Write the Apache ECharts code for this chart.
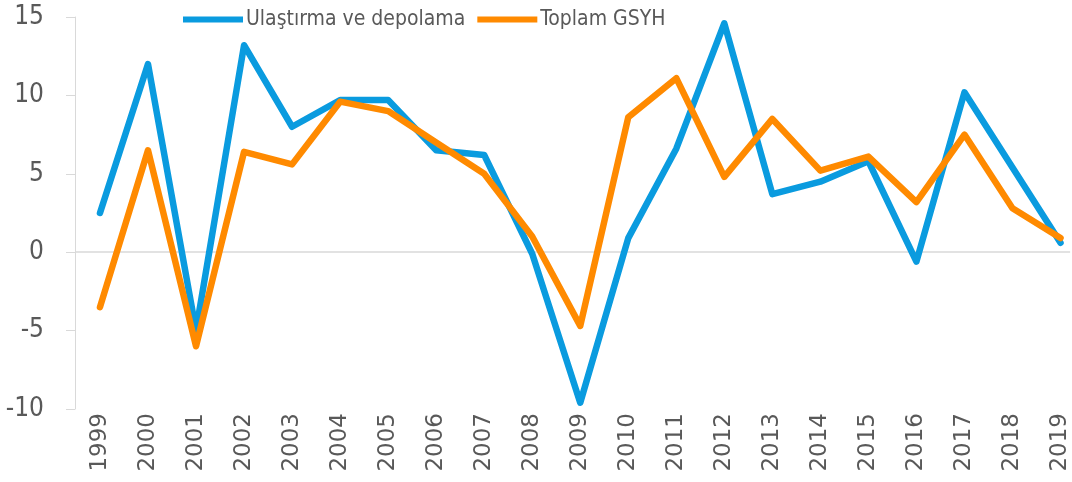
<!DOCTYPE html>
<html lang="tr">
  <head>
    <meta charset="UTF-8" />
    <title>Ulaştırma ve depolama - Toplam GSYH</title>
    <style>
      body, html {
        margin: 0;
        width: 100%;
        height: 100%;
        background: #fff;
      }
    </style>
  </head>
  <body>
    <div id="main" style="width:1072px;height:482px;"></div>

    <script src="https://cdn.jsdelivr.net/npm/echarts@6/dist/echarts.min.js"></script>
    <script>
      const years = ['1999', '2000', '2001', '2002', '2003', '2004', '2005', '2006', '2007', '2008',
        '2009', '2010', '2011', '2012', '2013', '2014', '2015', '2016', '2017', '2018', '2019'];

      // Ulaştırma ve depolama
      const ulastirma = [2.5, 12.0, -5.0, 13.2, 8.0, 9.7, 9.7, 6.5, 6.2, -0.1,
        -9.6, 0.9, 6.6, 14.6, 3.7, 4.5, 5.8, -0.6, 10.2, 5.4, 0.6];

      // Toplam GSYH
      const gsyh = [-3.5, 6.5, -6.0, 6.4, 5.6, 9.6, 9.0, 7.0, 5.0, 1.0,
        -4.7, 8.6, 11.1, 4.8, 8.5, 5.2, 6.1, 3.2, 7.5, 2.8, 0.9];

      const yTicks = [-10, -5, 0, 5, 10, 15];

      const textColor = '#595959';
      const narrow = "'Liberation Sans Narrow', 'DejaVu Sans Condensed', 'Liberation Sans', sans-serif";

      // x is the year index; the axis runs a bit past the last year so that
      // 2019 sits close to the right edge, as in the original
      const yearIdx = years.map((y, i) => i);
      const toPairs = arr => arr.map((v, i) => [i, v]);

      const myChart = echarts.init(document.getElementById('main'));

      const option = {
        animation: false,
        color: ['#0A9BDF', '#FF8A00'],
        legend: {
          top: 4,
          left: 178,
          icon: 'rect',
          itemWidth: 60,
          itemHeight: 6,
          itemGap: 12,
          textStyle: {
            color: textColor,
            fontFamily: narrow,
            fontSize: 21,
            padding: [0, 0, 0, -2],
          },
          data: ['Ulaştırma ve depolama', 'Toplam GSYH'],
        },
        grid: {
          left: 75,
          right: 0,
          top: 17,
          bottom: 73,
          containLabel: false,
        },
        xAxis: {
          type: 'value',
          min: -0.52,
          max: 20.2,
          splitLine: { show: false },
          axisLine: { show: false, onZero: false },
          axisTick: { show: false },
          axisLabel: {
            customValues: yearIdx,
            formatter: v => years[v],
            rotate: 90,
            margin: 4,
            color: textColor,
            fontFamily: "'DejaVu Sans', sans-serif",
            fontSize: 23,
          },
        },
        yAxis: {
          type: 'value',
          min: yTicks[0],
          max: yTicks[yTicks.length - 1],
          interval: 5,
          splitLine: { show: false },
          axisLine: { show: true, onZero: false, lineStyle: { color: '#d9d9d9', width: 1 } },
          axisTick: { show: true, length: 9, lineStyle: { color: '#d9d9d9' } },
          axisLabel: {
            margin: 31,
            color: textColor,
            fontFamily: narrow,
            fontSize: 26,
          },
        },
        series: [
          {
            name: 'Ulaştırma ve depolama',
            type: 'line',
            data: toPairs(ulastirma),
            symbol: 'none',
            lineStyle: { width: 6.5, cap: 'round', join: 'round' },
            z: 3,
            markLine: {
              silent: true,
              symbol: 'none',
              label: { show: false },
              lineStyle: { color: '#d9d9d9', width: 1.5, type: 'solid' },
              data: [{ yAxis: 0 }],
              z: 1,
            },
          },
          {
            name: 'Toplam GSYH',
            type: 'line',
            data: toPairs(gsyh),
            symbol: 'none',
            lineStyle: { width: 6.5, cap: 'round', join: 'round' },
            z: 4,
          },
        ],
      };

      myChart.setOption(option);
    </script>
  </body>
</html>
